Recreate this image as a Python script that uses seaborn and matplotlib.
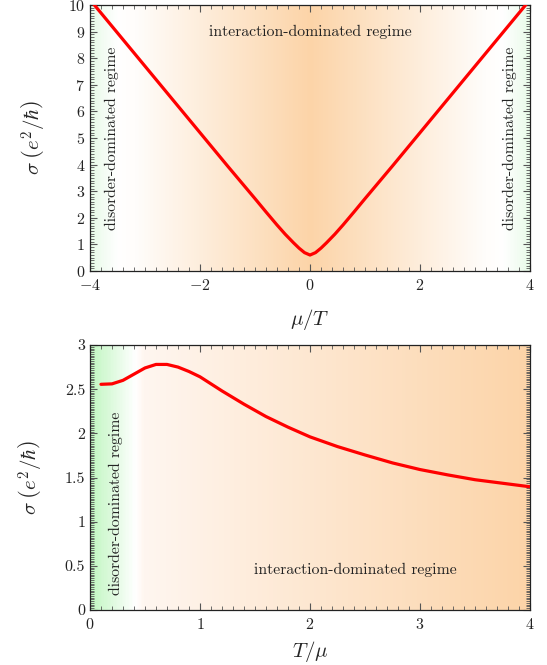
import numpy as np
import matplotlib
matplotlib.use('Agg')
import matplotlib.pyplot as plt
import seaborn as sns
from matplotlib.colors import LinearSegmentedColormap
from matplotlib.ticker import MultipleLocator, FuncFormatter

# top panel: sigma vs mu/T (symmetric around 0)
mu_T = [-4.0, -3.5, -3.0, -2.5, -2.0, -1.5, -1.0, -0.8, -0.6, -0.45, -0.3, -0.2, -0.1, 0.0,
        0.1, 0.2, 0.3, 0.45, 0.6, 0.8, 1.0, 1.5, 2.0, 2.5, 3.0, 3.5, 4.0]
sigma_top = [10.2, 8.95, 7.7, 6.45, 5.2, 3.95, 2.72, 2.22, 1.73, 1.38, 1.06, 0.86, 0.69, 0.6,
             0.69, 0.86, 1.06, 1.38, 1.73, 2.22, 2.72, 3.95, 5.2, 6.45, 7.7, 8.95, 10.2]

# bottom panel: sigma vs T/mu
T_mu = [0.1, 0.2, 0.3, 0.4, 0.5, 0.6, 0.7, 0.8, 0.9, 1.0, 1.2, 1.4, 1.6, 1.8, 2.0,
        2.25, 2.5, 2.75, 3.0, 3.25, 3.5, 3.75, 4.0]
sigma_bot = [2.555, 2.56, 2.6, 2.67, 2.74, 2.78, 2.78, 2.75, 2.70, 2.64, 2.48, 2.33, 2.19,
             2.07, 1.96, 1.85, 1.755, 1.665, 1.59, 1.53, 1.475, 1.435, 1.395]

sns.set_style('ticks')
plt.rcParams['font.family'] = ['cmr10', 'DejaVu Serif']
plt.rcParams['mathtext.fontset'] = 'cm'
plt.rcParams['axes.formatter.use_mathtext'] = True

green = '#c2f7c2'
pale_green = '#e8fbe8'
white = '#ffffff'
orange = '#fcd4a8'

top_cmap = LinearSegmentedColormap.from_list(
    'top', [(0.0, pale_green), (0.035, '#f6fdf6'), (0.06, white), (0.1, '#fffdfb'), (0.5, orange),
            (0.9, '#fffdfb'), (0.94, white), (0.965, '#f6fdf6'), (1.0, pale_green)])
bot_cmap = LinearSegmentedColormap.from_list(
    'bot', [(0.0, green), (0.06, '#e6fbe6'), (0.1, white), (0.12, '#fff6f0'), (1.0, orange)])

fig = plt.figure(figsize=(5.47, 6.65), dpi=100)
ax1 = fig.add_axes([0.1645, 0.5925, 0.8045, 0.4])
ax2 = fig.add_axes([0.1645, 0.0827, 0.8045, 0.3985])

grad = np.linspace(0, 1, 400).reshape(1, -1)
ax1.imshow(grad, extent=[-4, 4, 0, 10], aspect='auto', cmap=top_cmap, zorder=0)
ax2.imshow(grad, extent=[0, 4, 0, 3], aspect='auto', cmap=bot_cmap, zorder=0)

sns.lineplot(x=mu_T, y=sigma_top, ax=ax1, color='#ff0000', linewidth=2.3, sort=False, zorder=3)
sns.lineplot(x=T_mu, y=sigma_bot, ax=ax2, color='#ff0000', linewidth=2.3, sort=False, zorder=3)

ax1.set_xlim(-4, 4)
ax1.set_ylim(0, 10)
ax2.set_xlim(0, 4)
ax2.set_ylim(0, 3)

ax1.xaxis.set_major_locator(MultipleLocator(2))
ax1.xaxis.set_minor_locator(MultipleLocator(0.2))
ax1.yaxis.set_major_locator(MultipleLocator(1))
ax1.yaxis.set_minor_locator(MultipleLocator(0.1))
ax2.xaxis.set_major_locator(MultipleLocator(1))
ax2.xaxis.set_minor_locator(MultipleLocator(0.1))
ax2.yaxis.set_major_locator(MultipleLocator(0.5))
ax2.yaxis.set_minor_locator(MultipleLocator(0.02))
ax2.yaxis.set_major_formatter(FuncFormatter(lambda v, p: f'{v:g}'))

for ax in (ax1, ax2):
    ax.tick_params(which='both', direction='in', top=True, right=True,
                   color='#555555', labelsize=11.5, labelcolor='#222222')
    ax.tick_params(which='major', length=5, width=0.8)
    ax.tick_params(which='minor', length=3, width=0.6)
    ax.tick_params(axis='x', pad=5)
    for s in ax.spines.values():
        s.set_color('#222222')
        s.set_linewidth(0.9)
    ax.set_ylabel(r'$\sigma\;\left(e^2/\hbar\right)$', fontsize=15, labelpad=14)

ax1.set_xlabel(r'$\mu/T$', fontsize=15, labelpad=10)
ax2.set_xlabel(r'$T/\mu$', fontsize=15, labelpad=5)

# annotations
fs = 11.3
ax1.text(0, 9.0, 'interaction-dominated regime', ha='center', va='center', fontsize=fs, color='#222222')
ax1.text(-3.6, 5.0, 'disorder-dominated regime', rotation=90, ha='center', va='center', fontsize=fs, color='#222222')
ax1.text(3.64, 5.0, 'disorder-dominated regime', rotation=90, ha='center', va='center', fontsize=fs, color='#222222')
ax2.text(2.41, 0.45, 'interaction-dominated regime', ha='center', va='center', fontsize=fs, color='#222222')
ax2.text(0.24, 1.21, 'disorder-dominated regime', rotation=90, ha='center', va='center', fontsize=fs, color='#222222')

plt.savefig('out.png', dpi=100)
